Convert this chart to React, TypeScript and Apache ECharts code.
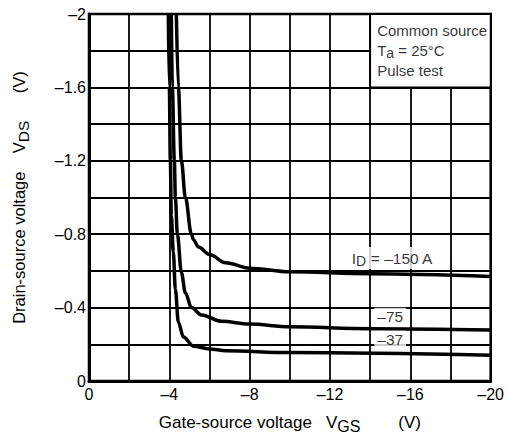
import React, { useEffect, useRef } from "react";
import * as echarts from "echarts";

// VGS (V), VDS (V) pairs
const curveId150: number[][] = [
  [-4.35, -2.0], [-4.45, -1.6], [-4.6, -1.2], [-4.8, -1.0], [-5.1, -0.8], [-5.2, -0.77],
  [-5.45, -0.73], [-6.0, -0.69], [-6.8, -0.645], [-8, -0.615], [-10, -0.595], [-14, -0.585], [-20, -0.57],
];
const curveId75: number[][] = [
  [-4.1, -2.0], [-4.15, -1.6], [-4.25, -1.2], [-4.3, -1.0], [-4.4, -0.8], [-4.6, -0.59],
  [-4.8, -0.48], [-5.1, -0.4], [-5.6, -0.36], [-6.6, -0.325], [-8, -0.31], [-10, -0.295], [-14, -0.285], [-20, -0.278],
];
const curveId37: number[][] = [
  [-3.95, -2.0], [-4.0, -1.6], [-4.05, -1.2], [-4.1, -0.9], [-4.2, -0.7], [-4.3, -0.5],
  [-4.45, -0.32], [-4.7, -0.24], [-5.2, -0.19], [-6.0, -0.175], [-6.8, -0.165], [-10, -0.155], [-20, -0.14],
];

const curveLabels = [
  { text: "I{sub|D} = –150 A", value: [-15.1, -0.67] },
  { text: "–75", value: [-15.0, -0.35] },
  { text: "–37", value: [-15.0, -0.225] },
];

const legendLines = ["Common source", "T{sub|a} = 25°C", "Pulse test"];
const legendArea = [[-14, -2], [-20, -1.6]];

const xTickLabels = ["0", "–4", "–8", "–12", "–16", "–20"];
const yTickLabels = ["0", "–0.4", "–0.8", "–1.2", "–1.6", "–2"];

const FONT = "Liberation Sans, Arial, sans-serif";

export default function App() {
  const ref = useRef<HTMLDivElement>(null);
  useEffect(() => {
    if (!ref.current) return;
    const chart = echarts.init(ref.current, undefined, { renderer: "svg" });
    const lineStyle = { color: "#000", width: 3.5 };
    const curveSeries = [curveId150, curveId75, curveId37].map((d) => ({
      type: "line",
      data: d,
      smooth: 0.35,
      smoothMonotone: "x",
      showSymbol: false,
      symbol: "none",
      lineStyle,
      z: 3,
    }));
    chart.setOption({
      animation: false,
      backgroundColor: "#fff",
      textStyle: { fontFamily: FONT, color: "#000" },
      grid: { left: 89, right: 11, top: 14, bottom: 67, show: true, borderColor: "#000", borderWidth: 2.5, backgroundColor: "transparent" },
      xAxis: {
        type: "value",
        min: -20,
        max: 0,
        interval: 2,
        inverse: true,
        axisLine: { show: true, lineStyle: { color: "#000", width: 3 } },
        axisTick: { show: false },
        splitLine: { show: true, lineStyle: { color: "#000", width: 1.8 } },
        axisLabel: {
          fontSize: 16,
          color: "#000",
          fontFamily: FONT,
          margin: 5,
          formatter: (v: number) => {
            const i = Math.round(Math.abs(v));
            return i % 4 === 0 ? xTickLabels[i / 4] : "";
          },
        },
        name: "Gate-source voltage   V{sub|GS}        (V)",
        nameLocation: "middle",
        nameGap: 29,
        nameTextStyle: {
          fontSize: 17,
          fontFamily: FONT,
          color: "#000",
          rich: { sub: { fontSize: 16, fontFamily: FONT, padding: [8, 0, 0, 0] } },
        },
      },
      yAxis: {
        type: "value",
        min: -2,
        max: 0,
        interval: 0.2,
        inverse: true,
        axisLine: { show: true, lineStyle: { color: "#000", width: 3 } },
        axisTick: { show: false },
        splitLine: { show: true, lineStyle: { color: "#000", width: 1.8 } },
        axisLabel: {
          fontSize: 16,
          color: "#000",
          fontFamily: FONT,
          margin: 3,
          formatter: (v: number) => {
            const i = Math.round(Math.abs(v) * 10);
            return i % 4 === 0 ? yTickLabels[i / 4] : "";
          },
        },
        name: "Drain-source voltage    V{sub|DS}      (V)",
        nameLocation: "middle",
        nameGap: 58,
        nameTextStyle: {
          fontSize: 16.5,
          fontFamily: FONT,
          color: "#000",
          rich: { sub: { fontSize: 15.5, fontFamily: FONT, padding: [8, 0, 0, 0] } },
        },
      },
      series: [
        ...curveSeries,
        {
          type: "scatter",
          symbolSize: 0,
          data: [{ value: legendArea[0], name: legendLines.join("\n") }],
          markArea: {
            silent: true,
            itemStyle: { color: "#fff", borderColor: "#000", borderWidth: 1.8, opacity: 1 },
            label: { show: false },
            data: [[{ coord: legendArea[0] }, { coord: legendArea[1] }]],
          },
          label: {
            show: true,
            position: [7, 6],
            align: "left",
            verticalAlign: "top",
            formatter: (p: any) => p.name,
            fontSize: 15,
            fontFamily: FONT,
            color: "#000",
            lineHeight: 20,
            rich: { sub: { fontSize: 14, fontFamily: FONT, lineHeight: 20, padding: [6, 0, 0, 0] } },
          },
          z: 4,
        },
        {
          type: "scatter",
          symbolSize: 0,
          z: 5,
          data: curveLabels.map((l) => ({ value: l.value, name: l.text })),
          label: {
            show: true,
            position: "inside",
            formatter: (p: any) => p.name,
            fontSize: 15.5,
            fontFamily: FONT,
            color: "#000",
            backgroundColor: "#fff",
            padding: [1, 3, 1, 3],
            rich: { sub: { fontSize: 14, fontFamily: FONT, padding: [6, 0, 0, 0] } },
          },
        },
      ],
    });
    return () => chart.dispose();
  }, []);
  return <div ref={ref} style={{ position: "fixed", left: 0, top: 0, width: 507, height: 448 }} />;
}
